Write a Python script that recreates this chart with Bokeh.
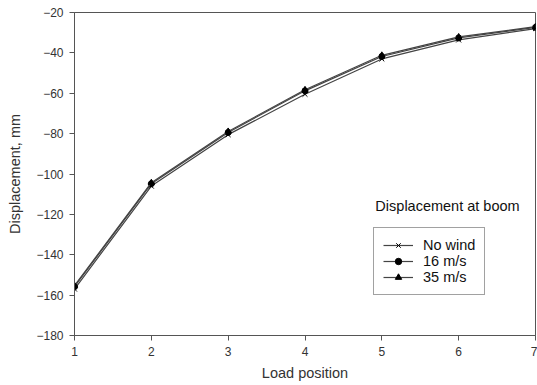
from bokeh.plotting import figure
from bokeh.models import Legend, LegendItem, Label, FixedTicker
from bokeh.embed import file_html
from bokeh.resources import INLINE

load_position = [1, 2, 3, 4, 5, 6, 7]
no_wind = [-157.0, -106.0, -80.5, -60.5, -43.0, -33.6, -28.0]
wind_16 = [-155.8, -104.8, -79.4, -58.8, -41.8, -32.6, -27.4]
wind_35 = [-155.3, -104.3, -78.9, -58.3, -41.2, -32.1, -27.0]

x_ticks = [1, 2, 3, 4, 5, 6, 7]
y_ticks = [-180, -160, -140, -120, -100, -80, -60, -40, -20]

FONT = "Liberation Sans"
GRAY = "#555555"
TXT = "#333333"

p = figure(width=537, height=385, output_backend="svg", toolbar_location=None,
           x_range=(1, 7), y_range=(-180, -20),
           min_border_left=74, min_border_right=2, min_border_top=12, min_border_bottom=50)
p.grid.visible = False
p.outline_line_color = GRAY
p.outline_line_width = 1
p.background_fill_color = "white"
p.border_fill_color = "white"

for ax in (p.xaxis[0], p.yaxis[0]):
    ax.axis_line_color = GRAY
    ax.major_tick_line_color = GRAY
    ax.minor_tick_line_color = None
    ax.major_tick_out = 5
    ax.major_tick_in = 0
    ax.major_label_text_font = FONT
    ax.major_label_text_font_size = "12px"
    ax.major_label_text_color = TXT
    ax.axis_label_text_font = FONT
    ax.axis_label_text_font_size = "14.5px"
    ax.axis_label_text_font_style = "normal"
    ax.axis_label_text_color = TXT

p.xaxis.ticker = FixedTicker(ticks=x_ticks)
p.yaxis.ticker = FixedTicker(ticks=y_ticks)
p.xaxis.axis_label = "Load position"
p.yaxis.axis_label = "Displacement, mm"
p.xaxis.major_label_standoff = 6
p.xaxis.axis_label_standoff = 6
p.yaxis.major_label_standoff = 6
p.yaxis.axis_label_standoff = 10

LC = "#444444"
l1 = p.line(load_position, no_wind, line_color=LC, line_width=1.2)
m1 = p.scatter(load_position, no_wind, marker="x", size=7, line_color="black", line_width=1)
l2 = p.line(load_position, wind_16, line_color=LC, line_width=1.2)
m2 = p.scatter(load_position, wind_16, marker="circle", size=6, fill_color="black", line_color="black")
l3 = p.line(load_position, wind_35, line_color=LC, line_width=1.2)
m3 = p.scatter(load_position, wind_35, marker="triangle", size=6, fill_color="black", line_color="black")

legend = Legend(items=[
    LegendItem(label="No wind", renderers=[l1, m1]),
    LegendItem(label="16 m/s", renderers=[l2, m2]),
    LegendItem(label="35 m/s", renderers=[l3, m3]),
], location=(299, 40))
legend.label_text_font = FONT
legend.label_text_font_size = "14.5px"
legend.label_text_color = "#111111"
legend.label_height = 16
legend.glyph_height = 16
legend.glyph_width = 30
legend.label_standoff = 10
legend.spacing = 0
legend.padding = 9
legend.margin = 0
legend.border_line_color = "#444444"
legend.border_line_width = 1
legend.background_fill_alpha = 1
p.add_layout(legend, "center")

title = Label(x=447 - 74, y=335 - 205, x_units="screen", y_units="screen",
              text="Displacement at boom", text_font=FONT, text_font_size="14.5px",
              text_color="#111111", text_align="center", text_baseline="middle")
p.add_layout(title)

open("out.html", "w").write(file_html(p, INLINE))
